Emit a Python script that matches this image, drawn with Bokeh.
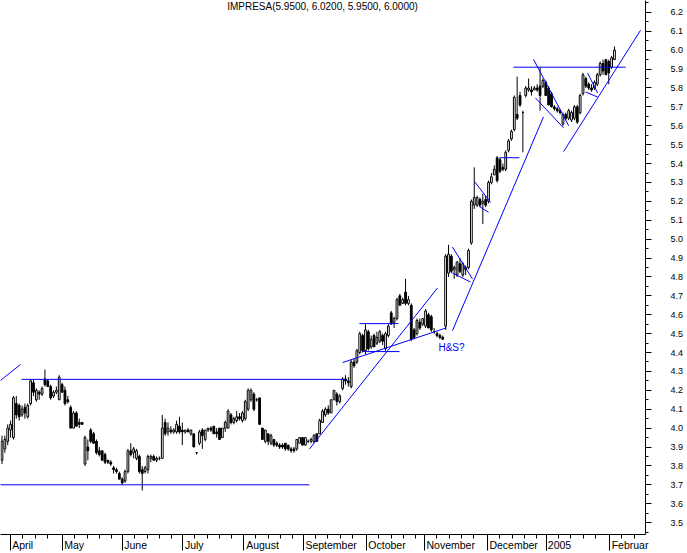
import numpy as np
from bokeh.plotting import figure
from bokeh.models import (ColumnDataSource, Range1d, LinearAxis, FixedTicker,
                          PrintfTickFormatter, Label)
from bokeh.embed import file_html
from bokeh.resources import INLINE

FONT = "Liberation Sans"

# ---------------- data (daily bars, trading-day index) ----------------
opens = [3.83,3.89,3.93,3.99,3.95,4.13,4.12,4.07,4.11,4.06,
         4.13,4.24,4.15,4.19,4.18,4.26,4.25,4.22,4.17,4.19,
         4.15,4.23,4.20,4.15,4.11,4.00,4.08,4.03,4.03,3.81,
         3.90,3.99,3.97,3.93,3.88,3.88,3.86,3.83,3.82,3.79,
         3.78,3.76,3.73,3.72,3.77,3.88,3.87,3.84,3.85,3.78,
         3.77,3.78,3.84,3.85,3.83,3.84,3.84,4.03,3.98,3.99,
         3.98,3.98,4.01,3.99,3.98,3.99,3.97,3.97,3.87,3.92,
         3.99,3.94,3.99,4.00,4.01,3.98,4.00,3.95,4.00,4.00,
         4.07,4.03,4.04,4.06,4.04,4.05,4.10,4.15,4.18,4.15,
         4.16,4.00,3.93,3.97,3.92,3.94,3.92,3.91,3.91,3.92,
         3.91,3.89,3.89,3.89,3.92,3.95,3.91,3.93,3.93,3.93,
         3.97,3.97,4.03,4.07,4.10,4.08,4.15,4.18,4.14,4.21,
         4.26,4.25,4.22,4.35,4.35,4.40,4.49,4.41,4.51,4.43,
         4.49,4.45,4.46,4.49,4.42,4.49,4.61,4.56,4.58,4.70,
         4.66,4.72,4.66,4.65,4.52,4.50,4.56,4.55,4.54,4.60,
         4.59,4.51,4.50,4.49,4.48,4.54,4.82,4.91,4.84,4.81,
         4.87,4.81,4.85,4.85,4.98,5.18,5.18,5.21,5.19,5.21,
         5.20,5.30,5.34,5.43,5.42,5.38,5.37,5.47,5.53,5.58,
         5.66,5.76,5.67,5.76,5.79,5.79,5.79,5.80,5.81,5.81,
         5.83,5.80,5.77,5.70,5.69,5.68,5.61,5.66,5.64,5.63,
         5.64,5.70,5.67,5.77,5.85,5.82,5.80,5.80,5.82,5.87,
         5.93,5.95,5.94,5.91,5.95]
highs = [3.96,3.96,4.02,4.04,4.17,4.17,4.13,4.12,4.13,4.13,
         4.26,4.26,4.21,4.20,4.22,4.31,4.26,4.23,4.20,4.22,
         4.28,4.24,4.22,4.17,4.12,4.09,4.09,4.05,4.03,3.96,
         3.94,4.00,3.98,3.94,3.90,3.88,3.87,3.83,3.83,3.80,
         3.79,3.77,3.74,3.78,3.89,3.92,3.90,3.89,3.86,3.80,
         3.80,3.86,3.86,3.86,3.85,3.85,4.07,4.05,4.03,4.01,
         4.00,4.04,4.06,4.03,3.99,4.00,3.99,3.97,3.87,3.99,
         4.00,3.99,4.00,4.01,4.01,4.00,4.00,4.00,4.04,4.10,
         4.08,4.06,4.09,4.08,4.09,4.15,4.21,4.21,4.19,4.16,
         4.16,4.00,3.99,3.97,3.97,3.94,3.93,3.92,3.92,3.92,
         3.91,3.90,3.90,3.94,3.95,3.95,3.95,3.94,3.95,3.97,
         3.97,4.05,4.10,4.11,4.12,4.15,4.20,4.19,4.18,4.27,
         4.28,4.27,4.36,4.37,4.42,4.51,4.50,4.55,4.52,4.49,
         4.50,4.51,4.52,4.50,4.51,4.55,4.62,4.59,4.69,4.71,
         4.69,4.79,4.70,4.66,4.53,4.58,4.58,4.58,4.63,4.61,
         4.60,4.53,4.51,4.50,4.49,4.92,4.97,4.92,4.86,4.88,
         4.90,4.88,4.86,4.95,5.21,5.38,5.23,5.22,5.24,5.23,
         5.31,5.35,5.39,5.44,5.43,5.40,5.47,5.53,5.58,5.76,
         5.86,5.78,5.68,5.81,5.85,5.81,5.81,5.82,5.91,5.85,
         5.84,5.81,5.78,5.71,5.70,5.69,5.67,5.67,5.69,5.68,
         5.71,5.71,5.77,5.88,5.86,5.83,5.82,5.84,5.88,5.94,
         5.95,5.95,5.95,5.97,6.02]
lows = [3.81,3.87,3.91,3.95,3.94,4.05,4.04,4.06,4.05,4.05,
        4.12,4.17,4.14,4.15,4.17,4.22,4.22,4.15,4.16,4.18,
        4.15,4.19,4.12,4.13,4.00,4.00,4.01,4.00,4.02,3.80,
        3.83,3.92,3.92,3.86,3.85,3.83,3.81,3.81,3.80,3.76,
        3.76,3.73,3.70,3.71,3.76,3.85,3.84,3.83,3.76,3.67,
        3.76,3.76,3.82,3.83,3.82,3.83,3.84,3.96,3.96,3.97,
        3.97,3.97,3.97,3.91,3.97,3.98,3.96,3.90,3.86,3.91,
        3.89,3.93,3.98,3.98,3.97,3.95,3.94,3.95,3.98,4.00,
        4.02,4.02,4.03,4.04,4.03,4.04,4.09,4.14,4.09,4.14,
        4.02,3.94,3.92,3.91,3.91,3.90,3.90,3.89,3.89,3.88,
        3.88,3.87,3.87,3.88,3.92,3.91,3.91,3.92,3.92,3.92,
        3.93,3.97,4.03,4.06,4.07,4.08,4.15,4.12,4.13,4.20,
        4.23,4.22,4.21,4.32,4.34,4.39,4.40,4.39,4.41,4.42,
        4.43,4.44,4.45,4.44,4.41,4.48,4.55,4.53,4.57,4.65,
        4.66,4.65,4.65,4.46,4.47,4.49,4.52,4.54,4.53,4.53,
        4.51,4.50,4.48,4.47,4.47,4.52,4.80,4.82,4.79,4.80,
        4.82,4.80,4.81,4.84,4.97,5.16,5.17,5.17,5.08,5.17,
        5.19,5.29,5.34,5.30,5.35,5.36,5.36,5.46,5.52,5.57,
        5.63,5.70,5.46,5.75,5.78,5.76,5.79,5.78,5.68,5.80,
        5.76,5.71,5.70,5.68,5.67,5.66,5.60,5.63,5.63,5.62,
        5.63,5.61,5.66,5.76,5.80,5.79,5.78,5.79,5.81,5.86,
        5.87,5.87,5.82,5.90,5.95]
closes = [3.93,3.94,4.00,4.02,4.16,4.07,4.06,4.10,4.08,4.12,
          4.25,4.19,4.20,4.18,4.21,4.23,4.22,4.16,4.19,4.20,
          4.27,4.19,4.13,4.14,4.00,4.08,4.01,4.02,4.02,3.95,
          3.88,3.93,3.92,3.87,3.86,3.83,3.82,3.82,3.81,3.78,
          3.77,3.73,3.71,3.77,3.88,3.86,3.89,3.88,3.77,3.76,
          3.79,3.85,3.85,3.83,3.84,3.84,4.00,3.97,4.00,3.98,
          3.99,4.02,3.98,3.98,3.99,3.98,3.99,3.90,3.87,3.98,
          3.96,3.99,4.00,3.99,3.97,3.97,3.94,4.00,4.03,4.09,
          4.03,4.05,4.06,4.05,4.08,4.14,4.20,4.20,4.10,4.15,
          4.02,3.94,3.99,3.93,3.96,3.91,3.91,3.90,3.90,3.89,
          3.89,3.88,3.88,3.94,3.95,3.91,3.95,3.93,3.94,3.96,
          3.93,4.04,4.09,4.10,4.08,4.15,4.20,4.14,4.17,4.26,
          4.25,4.24,4.35,4.33,4.41,4.50,4.41,4.52,4.42,4.47,
          4.43,4.48,4.51,4.46,4.50,4.54,4.55,4.58,4.68,4.65,
          4.68,4.66,4.68,4.47,4.48,4.57,4.53,4.58,4.62,4.53,
          4.52,4.51,4.49,4.48,4.47,4.91,4.92,4.83,4.85,4.88,
          4.83,4.87,4.84,4.94,5.20,5.22,5.22,5.18,5.20,5.18,
          5.30,5.33,5.37,5.31,5.36,5.37,5.46,5.52,5.57,5.75,
          5.64,5.71,5.67,5.80,5.80,5.78,5.80,5.79,5.76,5.84,
          5.76,5.71,5.70,5.69,5.68,5.67,5.66,5.64,5.68,5.67,
          5.70,5.62,5.76,5.87,5.81,5.80,5.79,5.83,5.87,5.93,
          5.89,5.87,5.88,5.96,6.00]

# month starts (trading-day index) and their labels
month_pos = [3.0, 21.1, 42.1, 63.1, 84.4, 105.3, 127.4, 147.6, 169.6, 190.2, 212.3]
month_names = ["April", "May", "June", "July", "August", "September",
               "October", "November", "December", "2005", "Februar"]

# hand-drawn trend lines (index, price)
trend_x0 = [-2.3, 6.8, -2.3, 107.4, 119.0, 124.9, 126.0, 157.4, 157.4, 157.4,
            165.1, 166.8, 173.8, 178.7, 185.7, 186.4, 196.2, 204.6, 203.9]
trend_y0 = [4.231, 4.258, 3.700, 3.889, 4.347, 4.553, 4.405, 4.516, 4.958, 4.821,
            5.305, 5.173, 5.431, 5.910, 5.952, 5.747, 5.463, 5.879, 5.779]
trend_x1 = [6.5, 120.0, 107.4, 152.2, 155.3, 138.5, 138.9, 189.2, 164.4, 163.7,
            170.7, 170.0, 180.8, 217.9, 198.0, 196.2, 223.1, 208.1, 208.1]
trend_y1 = [4.337, 4.258, 3.700, 4.742, 4.531, 4.553, 4.405, 5.647, 4.789, 4.773,
            5.195, 5.142, 5.431, 5.910, 5.600, 5.589, 6.105, 5.774, 5.752]

price_ticks = [round(3.5 + 0.1 * k, 2) for k in range(28)]
title_text = "IMPRESA(5.9500, 6.0200, 5.9500, 6.0000)"

# ---------------- figure ----------------
X0, X1 = -0.524, 224.84
FRAME_W = 645
p = figure(width=687, height=553, output_backend="svg", toolbar_location=None,
           x_range=Range1d(X0, X1), y_range=Range1d(3.437, 6.263),
           x_axis_type=None, y_axis_type=None,
           min_border=0, min_border_right=42, min_border_bottom=16)
p.outline_line_color = None
p.background_fill_color = "white"
p.border_fill_color = "white"

o = np.array(opens); c = np.array(closes)
src = ColumnDataSource(dict(
    x=list(range(len(opens))), high=highs, low=lows,
    top=np.maximum(o, c), bottom=np.minimum(o, c),
    fill=["white" if cc >= oo else "black" for oo, cc in zip(opens, closes)]))

p.segment(x0="x", y0="low", x1="x", y1="high", source=src,
          line_color="black", line_width=1)
p.vbar(x="x", width=0.62, top="top", bottom="bottom", source=src,
       fill_color="fill", line_color="black", line_width=1)

p.segment(x0=trend_x0, y0=trend_y0, x1=trend_x1, y1=trend_y1,
          line_color="#0000FF", line_width=1)

# ---- x axis: month separators (long ticks), weekly minor ticks ----
MONTH_FS = 10.5
AW = {'A': 667, 'p': 556, 'r': 333, 'i': 222, 'l': 222, 'M': 833, 'a': 556,
      'y': 500, 'J': 500, 'u': 556, 'n': 556, 'e': 556, 'g': 556, 's': 500,
      't': 278, 'S': 667, 'm': 833, 'b': 556, 'O': 778, 'c': 500, 'o': 556,
      'N': 722, 'v': 500, 'D': 722, 'F': 611, '2': 556, '0': 556, '5': 556}
NBSP = 278 * MONTH_FS / 1000.0
PX_PER_UNIT = FRAME_W / (X1 - X0)

def left_aligned(pos, s):
    # axis labels are centred on their tick: pad on the left so the visible
    # word starts just right of the month separator
    w = sum(AW.get(ch, 556) for ch in s) * MONTH_FS / 1000.0
    pad = w + 4.0
    tick_px = (pos - X0) * PX_PER_UNIT
    if tick_px - (pad + w) / 2.0 < 0:      # label pushed inside the canvas
        pad = tick_px + 2.0
    n = int(round(pad / NBSP))
    return "\u00a0" * n + s

overrides = {pos: left_aligned(pos, name) for pos, name in zip(month_pos, month_names)}

minor_x = [-1.3]
edges = month_pos + [225.0]
for a, b in zip(edges[:-1], edges[1:]):
    t = a + 4.3
    while t < b - 1.5:
        minor_x.append(round(t, 2))
        t += 4.3

xaxis = LinearAxis(ticker=FixedTicker(ticks=month_pos, minor_ticks=minor_x),
                   major_label_overrides=overrides,
                   major_tick_out=16, major_tick_in=0,
                   minor_tick_out=4, minor_tick_in=0,
                   major_label_standoff=-12,
                   major_label_text_font=FONT,
                   major_label_text_font_size=f"{MONTH_FS}px",
                   major_label_text_color="black",
                   axis_line_color="black", major_tick_line_color="black",
                   minor_tick_line_color="black")
p.add_layout(xaxis, "below")

# ---- y axis on the right ----
minor_y = [round(3.45 + 0.1 * k, 2) for k in range(29)]
yaxis = LinearAxis(ticker=FixedTicker(ticks=price_ticks, minor_ticks=minor_y),
                   formatter=PrintfTickFormatter(format="%.1f"),
                   major_tick_out=6, major_tick_in=0,
                   minor_tick_out=3, minor_tick_in=0,
                   major_label_standoff=19,
                   major_label_text_font=FONT, major_label_text_font_size="9px",
                   major_label_text_color="black",
                   axis_line_color="black", major_tick_line_color="black",
                   minor_tick_line_color="black")
p.add_layout(yaxis, "right")

p.add_layout(Label(x=322, y=528, x_units="screen", y_units="screen",
                   text=title_text, text_align="center", text_baseline="middle",
                   text_font=FONT, text_font_size="10px", text_color="black"))

p.add_layout(Label(x=152.5, y=4.429, text="H&S?", text_align="left",
                   text_baseline="middle", text_font=FONT,
                   text_font_size="10px", text_color="#0000FF"))

open("out.html", "w").write(file_html(p, INLINE))
